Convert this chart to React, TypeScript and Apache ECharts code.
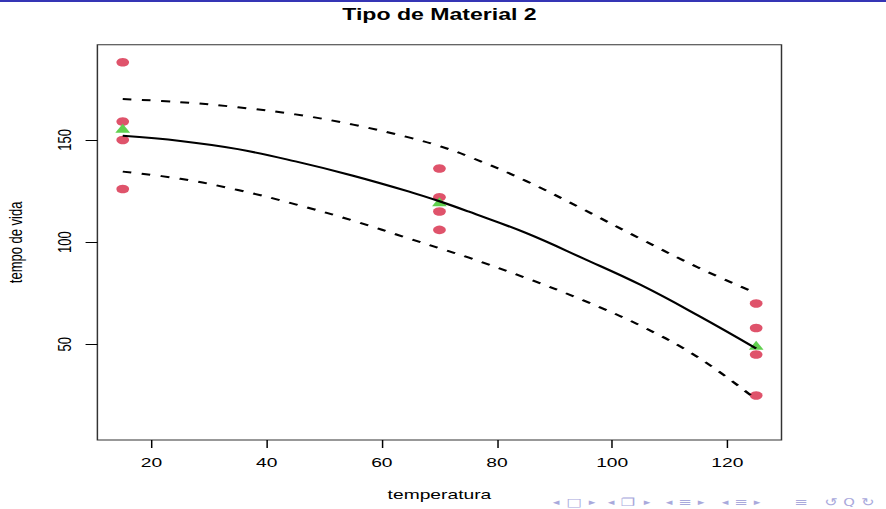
import React, { useEffect, useRef } from "react";
import * as echarts from "echarts";

// Battery life for material type 2 at three temperatures
const temperatures = [15, 70, 125];
const lifeAt15 = [150, 188, 159, 126];
const lifeAt70 = [136, 122, 106, 115];
const lifeAt125 = [25, 70, 58, 45];
const meanLife = [155.75, 119.75, 49.5];

// Fitted curve and its band, sampled along temperature
const curveTemps = [15, 25, 35, 45, 55, 65, 70, 75, 85, 95, 105, 115, 125];
const fittedLife = [152, 149.5, 145.5, 139.5, 132.5, 124.5, 120, 115, 104.5, 92, 79, 64, 48];
const upperLife = [170, 168.5, 166, 162.5, 157.5, 151, 147, 142, 130, 116, 101.5, 87.5, 75];
const lowerLife = [134.5, 131, 125.5, 118.5, 110.5, 101.5, 97, 92.5, 82.5, 71.5, 59, 43.5, 23];

const xTicks = [20, 40, 60, 80, 100, 120];
const yTicks = [50, 100, 150];

// Beamer navigation symbols: glyph, x centre, font size
const navSymbols: [string, number, number][] = [
  ["◂", 556, 9], ["□", 574, 11], ["▸", 592, 9],
  ["◂", 611, 9], ["❐", 628, 11], ["▸", 647, 9],
  ["◂", 669, 9], ["≡", 685, 11], ["▸", 701, 9],
  ["◂", 725, 9], ["≡", 741, 11], ["▸", 757, 9],
  ["≡", 801, 11], ["↺", 831, 11], ["Q", 849, 10], ["↻", 868, 11],
];

const SX = 1.48; // horizontal stretch of the slide
const W = 886 / SX;
const H = 509;
const FONT = "'Liberation Sans', Arial, Helvetica, sans-serif";
const PLOT = { left: 97.4, right: 781.5, top: 44.7, bottom: 440 };

export default function App() {
  const ref = useRef<HTMLDivElement>(null);

  useEffect(() => {
    if (!ref.current) return;
    const chart = echarts.init(ref.current, undefined, { renderer: "svg" });

    const observed: number[][] = [];
    [lifeAt15, lifeAt70, lifeAt125].forEach((vals, i) =>
      vals.forEach((v) => observed.push([temperatures[i], v]))
    );
    const means = temperatures.map((t, i) => [t, meanLife[i]]);
    const pairs = (ys: number[]) => curveTemps.map((t, i) => [t, ys[i]]);

    const plotCx = (PLOT.left + PLOT.right) / 2 / SX;
    const curve = (ys: number[], dashed: boolean) => ({
      type: "line",
      data: pairs(ys),
      smooth: 0.4,
      showSymbol: false,
      symbol: "none",
      lineStyle: { color: "#000", width: 2, type: dashed ? [6, 7] : "solid" },
      z: 4,
    });

    chart.setOption({
      animation: false,
      backgroundColor: "#ffffff",
      title: {
        text: "Tipo de Material 2",
        left: plotCx,
        textAlign: "center",
        top: 6,
        padding: 0,
        textStyle: { fontFamily: FONT, fontSize: 15.6, fontWeight: "bold", color: "#000" },
      },
      grid: {
        left: PLOT.left / SX,
        top: PLOT.top,
        width: (PLOT.right - PLOT.left) / SX,
        height: PLOT.bottom - PLOT.top,
        outerBoundsMode: "none",
        containLabel: false,
        show: true,
        borderColor: "#333",
        borderWidth: 1,
        backgroundColor: "transparent",
      },
      xAxis: {
        type: "value",
        min: 10.6,
        max: 129.4,
        name: "temperatura",
        nameLocation: "middle",
        nameGap: 48,
        nameTextStyle: { fontFamily: FONT, fontSize: 13, color: "#000" },
        axisLine: { show: false },
        splitLine: { show: false },
        axisTick: { show: true, length: 8, customValues: xTicks, lineStyle: { color: "#000", width: 1 } },
        axisLabel: { customValues: xTicks, fontFamily: FONT, fontSize: 13, color: "#000", margin: 16 },
      },
      yAxis: {
        type: "value",
        min: 3.2,
        max: 196.6,
        name: "tempo de vida",
        nameLocation: "middle",
        nameGap: 49.5,
        nameRotate: 90,
        nameTextStyle: { fontFamily: FONT, fontSize: 13, color: "#000" },
        axisLine: { show: false },
        splitLine: { show: false },
        axisTick: { show: true, length: 8, customValues: yTicks, lineStyle: { color: "#000", width: 1 } },
        axisLabel: { customValues: yTicks, rotate: 90, fontFamily: FONT, fontSize: 13, color: "#000", margin: 16.3 },
      },
      series: [
        {
          type: "scatter",
          data: observed,
          symbol: "circle",
          symbolSize: 8.6,
          itemStyle: { color: "#DF536B", opacity: 1 },
          z: 2,
        },
        {
          type: "scatter",
          data: means,
          symbol: "triangle",
          symbolSize: [10, 9],
          itemStyle: { color: "#61D04F", opacity: 1 },
          z: 3,
        },
        curve(fittedLife, false),
        curve(upperLife, true),
        curve(lowerLife, true),
      ],
      graphic: [
        {
          type: "rect",
          left: 0,
          top: 0,
          shape: { x: 0, y: 0, width: W, height: 2 },
          style: { fill: "#3535b5" },
        },
        ...navSymbols.map(([ch, x, size]) => ({
          type: "text",
          x: x / SX,
          y: 502,
          style: {
            text: ch,
            fontFamily: "'DejaVu Sans', sans-serif",
            fontSize: size,
            fill: "#a9a9dc",
            align: "center",
            verticalAlign: "middle",
          },
        })),
      ],
    });

    return () => chart.dispose();
  }, []);

  return (
    <div
      ref={ref}
      style={{
        position: "absolute",
        left: 0,
        top: 0,
        width: W,
        height: H,
        transform: `scaleX(${SX})`,
        transformOrigin: "0 0",
        background: "#fff",
      }}
    />
  );
}
